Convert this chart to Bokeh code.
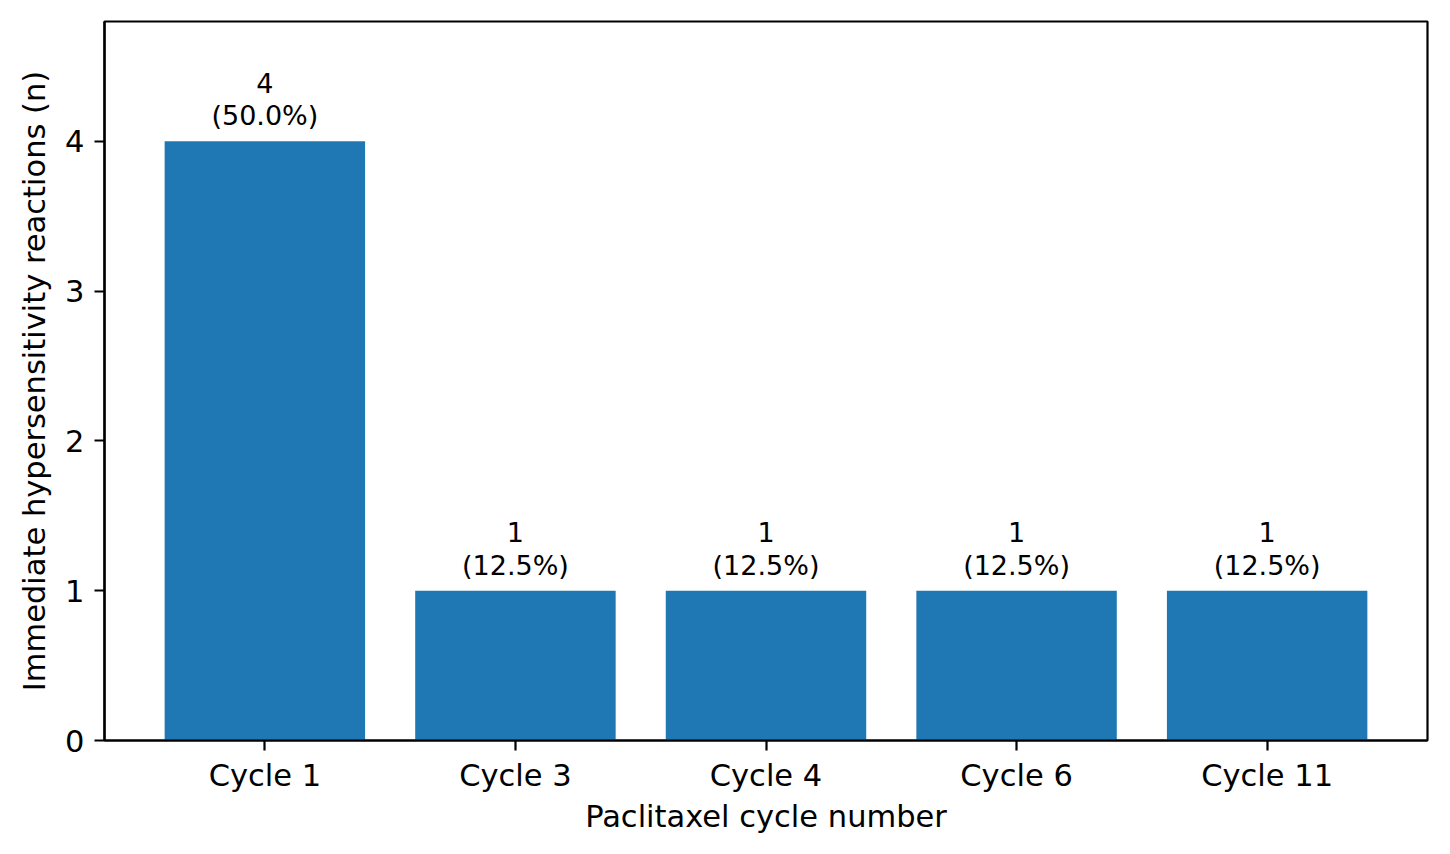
from bokeh.plotting import figure
from bokeh.models import Range1d, FixedTicker, ColumnDataSource
from bokeh.core.properties import value
from bokeh.embed import file_html
from bokeh.resources import INLINE

categories = ["Cycle 1", "Cycle 3", "Cycle 4", "Cycle 6", "Cycle 11"]
counts = [4, 1, 1, 1, 1]
percents = [50.0, 12.5, 12.5, 12.5, 12.5]
y_ticks = [0, 1, 2, 3, 4]

xs = list(range(len(categories)))
labels = [f"{c}\n({p:.1f}%)" for c, p in zip(counts, percents)]
src = ColumnDataSource(dict(x=xs, top=counts, label=labels))

FONT = "DejaVu Sans"

p = figure(width=1434, height=838, output_backend="svg", toolbar_location=None,
           x_range=Range1d(-0.64, 4.64), y_range=Range1d(0, 4.8),
           min_border_left=104, min_border_right=7, min_border_top=21, min_border_bottom=98)

p.vbar(x="x", top="top", width=0.8, bottom=0, source=src,
       fill_color="#1f77b4", line_color=None)

p.text(x="x", y="top", text="label", source=src, text_align="center",
       text_baseline="bottom", y_offset=-10, text_font=value(FONT),
       text_font_size="27px", text_color="black", text_line_height=1.05)

p.xgrid.visible = False
p.ygrid.visible = False
p.outline_line_color = "black"
p.outline_line_width = 2.2
p.background_fill_color = "white"
p.border_fill_color = "white"

p.xaxis.ticker = FixedTicker(ticks=xs)
p.xaxis.major_label_overrides = {i: c for i, c in enumerate(categories)}
p.yaxis.ticker = FixedTicker(ticks=y_ticks)
p.xaxis.axis_label = "Paclitaxel cycle number"
p.yaxis.axis_label = "Immediate hypersensitivity reactions (n)"

for ax in (p.xaxis, p.yaxis):
    ax.axis_line_color = "black"
    ax.axis_line_width = 2.2
    ax.major_tick_line_color = "black"
    ax.major_tick_line_width = 2.2
    ax.major_tick_out = 10
    ax.major_tick_in = 0
    ax.minor_tick_line_color = None
    ax.major_label_text_font = FONT
    ax.major_label_text_font_size = "30.5px"
    ax.major_label_text_color = "black"
    ax.axis_label_text_font = FONT
    ax.axis_label_text_font_size = "30.5px"
    ax.axis_label_text_font_style = "normal"
    ax.axis_label_text_color = "black"

p.xaxis.major_label_standoff = 7
p.xaxis.axis_label_standoff = 3
p.yaxis.major_label_standoff = 10
p.yaxis.axis_label_standoff = 10

open("out.html", "w").write(file_html(p, INLINE))
